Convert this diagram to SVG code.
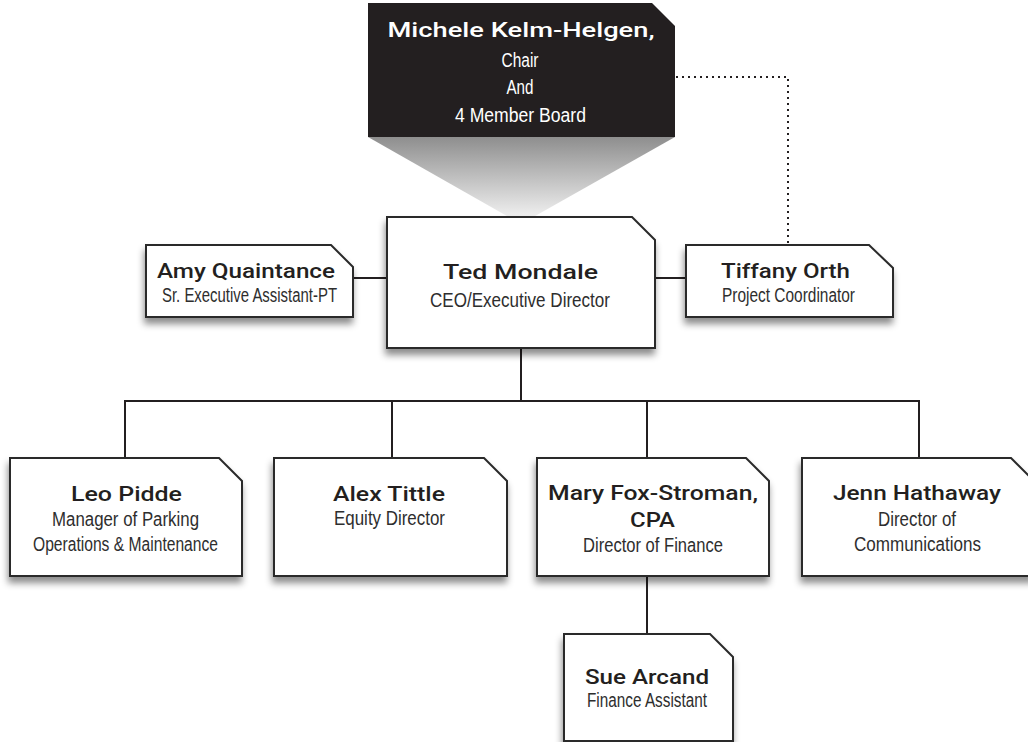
<svg xmlns="http://www.w3.org/2000/svg" width="1028" height="742" viewBox="0 0 1028 742">
<defs>
<linearGradient id="fade" gradientUnits="userSpaceOnUse" x1="0" y1="137" x2="0" y2="222">
<stop offset="0" stop-color="#8e8e8e"/>
<stop offset="1" stop-color="#f6f6f6"/>
</linearGradient>
<filter id="sh" x="-10%" y="-10%" width="125%" height="135%">
<feDropShadow dx="-1" dy="6" stdDeviation="3.5" flood-color="#000" flood-opacity="0.45"/>
</filter>
</defs>
<style>
.box{fill:#fff;stroke:#2b2b2b;stroke-width:2;filter:url(#sh)}
.nm{font-family:Roboto,"Open Sans",sans-serif;font-weight:500;font-size:20px;fill:#231f20;text-anchor:middle}
.sb{font-family:"Liberation Sans Narrow","Liberation Sans",sans-serif;font-size:20px;fill:#2e2e2e;text-anchor:middle}
.wn{font-family:Roboto,"Open Sans",sans-serif;font-weight:500;font-size:20px;fill:#fff;text-anchor:middle}
.ws{font-family:"Liberation Sans Narrow","Liberation Sans",sans-serif;font-size:19.5px;fill:#fff;text-anchor:middle}
.ln{fill:none;stroke:#231f20;stroke-width:2}
.dot{fill:none;stroke:#231f20;stroke-width:2;stroke-dasharray:2 4}
</style>
<rect width="1028" height="742" fill="#fff"/>
<g id="board">
<polygon points="368,137 675,137 521,224" fill="url(#fade)"/>
<path d="M368,3 H652 L675,26 V137 H368 Z" fill="#231f20"/>
<text class="wn" x="521" y="37" textLength="267" lengthAdjust="spacingAndGlyphs">Michele Kelm-Helgen,</text>
<text class="ws" x="520" y="67" textLength="37" lengthAdjust="spacingAndGlyphs">Chair</text>
<text class="ws" x="520" y="94" textLength="27" lengthAdjust="spacingAndGlyphs">And</text>
<text class="ws" x="520.5" y="122" textLength="131" lengthAdjust="spacingAndGlyphs">4 Member Board</text>
</g>
<g id="connectors">
<path class="ln" d="M353,278 H387"/>
<path class="ln" d="M655,278 H686"/>
<path class="ln" d="M521,348 V401"/>
<path class="ln" d="M125,458 V401 H919 V458"/>
<path class="ln" d="M392,401 V458"/>
<path class="ln" d="M647,401 V458"/>
<path class="ln" d="M647,576 V634"/>
<path class="dot" d="M676,77 H788 V245"/>
</g>
<g id="ted">
<path class="box" d="M387,217 H632 L655,240 V348 H387 Z"/>
<text class="nm" x="520.5" y="279" textLength="155" lengthAdjust="spacingAndGlyphs">Ted Mondale</text>
<text class="sb" x="520" y="307" textLength="180" lengthAdjust="spacingAndGlyphs">CEO/Executive Director</text>
</g>
<g id="amy">
<path class="box" d="M146,245 H331 L353,267 V317 H146 Z"/>
<text class="nm" x="246" y="278" textLength="178" lengthAdjust="spacingAndGlyphs">Amy Quaintance</text>
<text class="sb" x="249.5" y="302" textLength="175" lengthAdjust="spacingAndGlyphs">Sr. Executive Assistant-PT</text>
</g>
<g id="tiffany">
<path class="box" d="M686,245 H869 L893,268 V317 H686 Z"/>
<text class="nm" x="785.5" y="278" textLength="129" lengthAdjust="spacingAndGlyphs">Tiffany Orth</text>
<text class="sb" x="788.5" y="302" textLength="133" lengthAdjust="spacingAndGlyphs">Project Coordinator</text>
</g>
<g id="leo">
<path class="box" d="M10,458 H219 L242,481 V576 H10 Z"/>
<text class="nm" x="126.5" y="501" textLength="111" lengthAdjust="spacingAndGlyphs">Leo Pidde</text>
<text class="sb" x="125.5" y="526" textLength="147" lengthAdjust="spacingAndGlyphs">Manager of Parking</text>
<text class="sb" x="125.5" y="551" textLength="185" lengthAdjust="spacingAndGlyphs">Operations &amp; Maintenance</text>
</g>
<g id="alex">
<path class="box" d="M274,458 H484 L507,481 V576 H274 Z"/>
<text class="nm" x="389" y="501" textLength="112" lengthAdjust="spacingAndGlyphs">Alex Tittle</text>
<text class="sb" x="389.5" y="525" textLength="111" lengthAdjust="spacingAndGlyphs">Equity Director</text>
</g>
<g id="mary">
<path class="box" d="M537,458 H746 L769,481 V576 H537 Z"/>
<text class="nm" x="653" y="500" textLength="210" lengthAdjust="spacingAndGlyphs">Mary Fox-Stroman,</text>
<text class="nm" x="652.5" y="527" textLength="45" lengthAdjust="spacingAndGlyphs">CPA</text>
<text class="sb" x="653" y="552" textLength="140" lengthAdjust="spacingAndGlyphs">Director of Finance</text>
</g>
<g id="jenn">
<path class="box" d="M802,458 H1011 L1034,481 V576 H802 Z"/>
<text class="nm" x="917" y="500" textLength="168" lengthAdjust="spacingAndGlyphs">Jenn Hathaway</text>
<text class="sb" x="917" y="526" textLength="78" lengthAdjust="spacingAndGlyphs">Director of</text>
<text class="sb" x="917.5" y="551" textLength="127" lengthAdjust="spacingAndGlyphs">Communications</text>
</g>
<g id="sue">
<path class="box" d="M564,634 H710 L733,657 V741 H564 Z"/>
<text class="nm" x="647" y="684" textLength="124" lengthAdjust="spacingAndGlyphs">Sue Arcand</text>
<text class="sb" x="647" y="707" textLength="120" lengthAdjust="spacingAndGlyphs">Finance Assistant</text>
</g>
</svg>
